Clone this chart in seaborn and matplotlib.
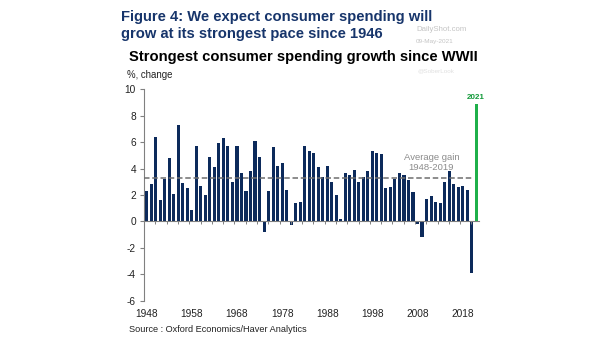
import numpy as np
import pandas as pd
import matplotlib
matplotlib.use("Agg")
import matplotlib.pyplot as plt
import seaborn as sns

# ---------------- data ----------------
years = list(range(1948, 2022))
growth = [2.3, 2.8, 6.4, 1.6, 3.2, 4.8, 2.1, 7.3, 2.9, 2.5,
          0.9, 5.7, 2.7, 2.0, 4.9, 4.1, 5.9, 6.3, 5.7, 3.0,
          5.7, 3.7, 2.3, 3.8, 6.1, 4.9, -0.8, 2.3, 5.6, 4.2,
          4.4, 2.4, -0.3, 1.4, 1.5, 5.7, 5.3, 5.2, 4.1, 3.4,
          4.2, 3.0, 2.0, 0.2, 3.7, 3.5, 3.9, 3.0, 3.4, 3.8,
          5.3, 5.2, 5.1, 2.5, 2.6, 3.2, 3.7, 3.5, 3.1, 2.2,
          -0.2, -1.2, 1.7, 1.9, 1.5, 1.4, 3.0, 3.8, 2.8, 2.6,
          2.7, 2.4, -3.9, 8.9]
groups = ["actual"] * 73 + ["forecast"]
avg_gain = 3.3
y_ticks = [-6, -4, -2, 0, 2, 4, 6, 8, 10]
x_label_years = [1948, 1958, 1968, 1978, 1988, 1998, 2008, 2018]

NAVY = "#0c2a5b"
GREEN = "#1fb04a"
GREEN_TXT = "#139a3a"
TITLE_BLUE = "#17356b"

df = pd.DataFrame({"year": [str(y) for y in years], "growth": growth, "group": groups})

W, H = 605, 341
fig = plt.figure(figsize=(W / 100, H / 100), dpi=100)
plt.rcParams["font.family"] = ["Liberation Sans", "DejaVu Sans"]

def fx(px):
    return px / W

def fy(py):
    return 1 - py / H

left_px, right_px = 144.3, 478.9
top_px, bot_px = 89.3, 300.7
ax = fig.add_axes([fx(left_px), fy(bot_px), (right_px - left_px) / W, (bot_px - top_px) / H])

sns.barplot(data=df, x="year", y="growth", hue="group",
            palette={"actual": NAVY, "forecast": GREEN},
            dodge=False, legend=False, width=0.68, saturation=1, ax=ax, zorder=3)

ax.set_xlim(-0.53, 73.6)
ax.set_ylim(-6, 10)
ax.set_xlabel("")
ax.set_ylabel("")
ax.set_facecolor("white")
ax.grid(False)

# y axis
ax.set_yticks(y_ticks)
ax.set_yticklabels([str(t) for t in y_ticks], fontsize=7.3, color="#222222")
ax.tick_params(axis="y", length=3, width=0.8, color="#808080", pad=3)
for s in ["top", "right", "bottom"]:
    ax.spines[s].set_visible(False)
ax.spines["left"].set_color("#808080")
ax.spines["left"].set_linewidth(0.8)

# x labels at bottom
pos = [years.index(y) for y in x_label_years]
ax.set_xticks(pos)
ax.set_xticklabels([str(y) for y in x_label_years], fontsize=7.3, color="#222222")
ax.tick_params(axis="x", length=0, pad=6)

# zero line with small ticks
ax2 = ax.twiny()
ax2.set_xlim(ax.get_xlim())
for s in ["top", "right", "left"]:
    ax2.spines[s].set_visible(False)
ax2.spines["bottom"].set_position(("data", 0))
ax2.spines["bottom"].set_color("#808080")
ax2.spines["bottom"].set_linewidth(0.8)
ax2.xaxis.set_ticks_position("bottom")
ax2.set_xticks(np.arange(1.95, 73, 2.5))
ax2.set_xticklabels([])
ax2.tick_params(axis="x", length=2.5, width=0.7, color="#808080", direction="out")
ax2.set_zorder(ax.get_zorder() + 1)
ax2.patch.set_visible(False)

# average line
n_hist = len(years) - 1
ax.hlines(avg_gain, -0.53, n_hist - 0.7, colors="#6e6e6e", linestyles=(0, (3.6, 1.8)),
          linewidth=1.1, zorder=4)
ax.text(63.1, 4.47, "Average gain\n1948-2019", ha="center", va="center",
        fontsize=6.8, color="#8c8c8c", linespacing=1.15, zorder=5)

# 2021 label
ax.text(len(years) - 1, growth[-1] + 0.25, "2021", ha="center", va="bottom",
        fontsize=5.8, fontweight="bold", color=GREEN_TXT)

# texts
fig.text(fx(121), fy(21), "Figure 4: We expect consumer spending will", fontsize=10.6,
         fontweight="bold", color=TITLE_BLUE, va="baseline", ha="left")
fig.text(fx(121), fy(38), "grow at its strongest pace since 1946", fontsize=10.6,
         fontweight="bold", color=TITLE_BLUE, va="baseline", ha="left")
fig.text(fx(416), fy(31), "DailyShot.com", fontsize=5.6, color="#c4c4c4", va="baseline")
fig.text(fx(416), fy(42.5), "09-May-2021", fontsize=4.6, color="#c4c4c4", va="baseline")
fig.text(fx(418), fy(72), "@SoberLook", fontsize=4.6, color="#e0e0e0", va="baseline", zorder=0)
fig.text(fx(129), fy(61.5), "Strongest consumer spending growth since WWII", fontsize=10.65,
         fontweight="bold", color="black", va="baseline", ha="left", zorder=2)
fig.text(fx(127), fy(78), "%, change", fontsize=6.9, color="#222222", va="baseline")
fig.text(fx(129), fy(332.5), "Source : Oxford Economics/Haver Analytics", fontsize=6.6,
         color="#222222", va="baseline")

fig.savefig("out.png", dpi=100, facecolor="white")
